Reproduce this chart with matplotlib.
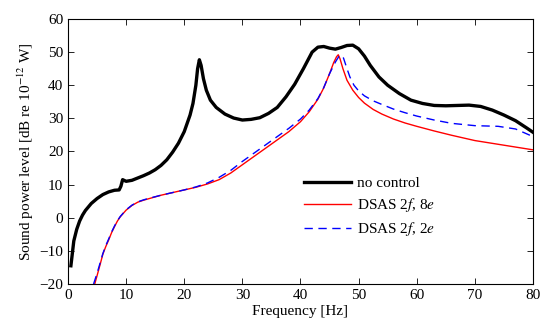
import matplotlib
matplotlib.use("Agg")
import matplotlib.pyplot as plt

plt.rcParams['font.family'] = ['Liberation Serif', 'DejaVu Serif']
plt.rcParams['mathtext.fontset'] = 'stix'

# no control
f_nc = [0.5, 1, 1.5, 2, 2.5, 3, 4, 5, 6, 7, 8, 8.8, 9.1, 9.4, 10, 11, 12, 13, 14, 15,
        16, 17, 18, 19, 20, 21, 21.5, 22, 22.3, 22.6, 22.9, 23.3, 23.8, 24.5, 25.5, 27,
        28.5, 30, 31.5, 33, 34.5, 36, 37.5, 39, 40.5, 42, 43, 44, 45, 46, 47, 48, 49, 50,
        51, 52, 53.5, 55, 57, 59, 61, 63, 65, 67, 69, 71, 73, 75, 77, 79, 80]
p_nc = [-14.5, -7, -3.5, -1, 0.8, 2.2, 4.3, 5.8, 7, 7.8, 8.3, 8.4, 9.5, 11.5, 11, 11.3,
        12, 12.7, 13.5, 14.5, 15.8, 17.5, 19.8, 22.5, 26, 31, 34.5, 40, 45, 47.7, 46, 42,
        38.5, 35.5, 33.3, 31.3, 30.1, 29.5, 29.7, 30.2, 31.5, 33.3, 36.5, 40.3, 45, 50,
        51.5, 51.7, 51.2, 50.9, 51.4, 52, 52.1, 51, 48.8, 46, 42.5, 40, 37.5, 35.5, 34.5,
        33.9, 33.8, 33.9, 34, 33.6, 32.5, 31, 29.3, 27, 25.8]

# DSAS 2f, 8e
f_8e = [4.6, 5, 5.5, 6, 6.5, 7, 7.5, 8, 8.5, 9, 10, 11, 12, 13, 14, 16, 18, 20, 22, 24,
        26, 28, 30, 32, 34, 36, 38, 40, 41.5, 43, 44, 45, 45.7, 46.2, 46.5, 46.8, 47.3,
        48, 49, 50, 51, 52.5, 54, 56, 58, 60, 63, 66, 70, 75, 80]
p_8e = [-20, -17.5, -14.3, -11, -8.7, -6.7, -4.5, -2.7, -1, 0.3, 2.3, 3.7, 4.7, 5.3, 5.8,
        6.8, 7.6, 8.4, 9.2, 10.2, 11.5, 13.5, 16, 18.5, 21, 23.5, 26, 29, 32, 35.8, 39.2,
        43.5, 46.8, 48.6, 49.2, 48, 45, 41.5, 38.5, 36.3, 34.6, 32.7, 31.3, 29.8, 28.6,
        27.6, 26.2, 24.9, 23.3, 21.9, 20.5]

# DSAS 2f, 2e
f_2e = [4.4, 5, 5.5, 6, 6.5, 7, 7.5, 8, 8.5, 9, 10, 11, 12, 13, 14, 16, 18, 20, 22, 24,
        26, 28, 30, 32, 34, 36, 38, 40, 41.5, 43, 44, 45, 46, 46.6, 47, 47.4, 48, 48.5,
        49.2, 50, 51, 52.5, 54, 56, 58, 60, 63, 66, 70, 74, 77, 80]
p_2e = [-20, -16.8, -13.8, -10.8, -8.4, -6.4, -4.3, -2.5, -0.9, 0.4, 2.4, 3.8, 4.8, 5.4,
        5.9, 6.8, 7.6, 8.4, 9.3, 10.5, 12.2, 14.3, 17, 19.5, 22, 24.5, 27, 29.8, 32.5,
        36, 39.3, 43.5, 47, 48.7, 49.1, 48.2, 45, 42.5, 40, 38.3, 36.8, 35.3, 34.2,
        32.8, 31.7, 30.7, 29.5, 28.5, 27.8, 27.6, 26.8, 24.5]

fig = plt.figure(figsize=(5.47, 3.27), dpi=100)
ax = fig.add_axes([0.1243, 0.1315, 0.8501, 0.8104])

ax.plot(f_nc, p_nc, color='black', lw=2.4, label='no control')
ax.plot(f_8e, p_8e, color='red', lw=1.0, label='DSAS 2$f$, 8$e$')
ax.plot(f_2e, p_2e, color='blue', lw=1.0, ls=(0, (6, 4)), label='DSAS 2$f$, 2$e$')

ax.set_xlim(0, 80)
ax.set_ylim(-20, 60)
ax.set_xticks(range(0, 81, 10))
ax.set_yticks(range(-20, 61, 10))
ax.tick_params(direction='in', top=True, right=True, labelsize=11, length=4, width=0.6)
for s in ax.spines.values():
    s.set_linewidth(0.8)

ax.set_xlabel('Frequency [Hz]', fontsize=11, labelpad=2)
ax.set_ylabel('Sound power level [dB re 10$^{-12}$ W]', fontsize=11, labelpad=2)

ax.legend(loc='center left', bbox_to_anchor=(0.478, 0.29), frameon=False, fontsize=11,
          handlelength=3.1, handletextpad=0.35, labelspacing=0.4)

fig.savefig('out.png', dpi=100)
